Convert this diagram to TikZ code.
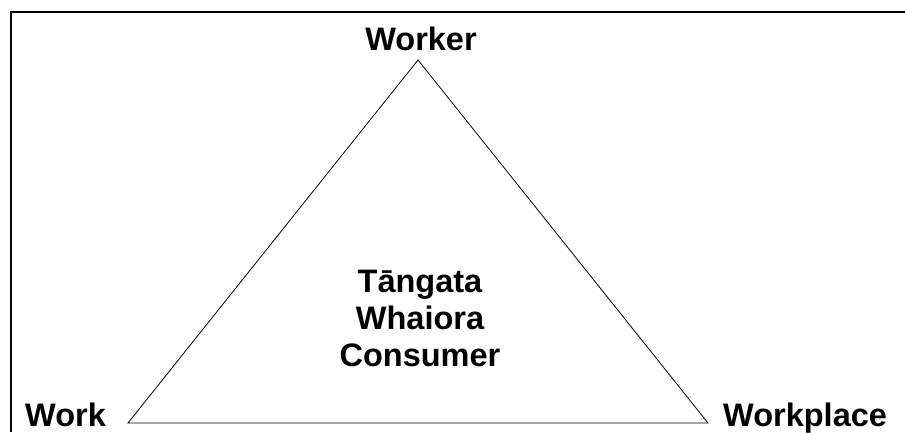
\documentclass[tikz,border=0pt]{standalone}
\usepackage{fontspec}
\setmainfont{Liberation Sans}

\begin{document}
\begin{tikzpicture}[x=1pt, y=-1pt,
    every node/.style={inner sep=0pt, font=\fontsize{32.5}{37}\selectfont\bfseries}]
      \useasboundingbox (0,0) rectangle (905,432);

      % frame, only top and left edges show
      \draw[line width=2.2pt] (11,432) -- (11,12) -- (905,12);

      \coordinate (top) at (418,60);
      \coordinate (bl) at (128,423);
      \coordinate (br) at (708,423);

      \node[anchor=base] (worker) at (421,50) {Worker};
      \node[anchor=base west] (work) at (25,426) {Work};
      \node[anchor=base west] (workplace) at (723,426) {Workplace};
      \node[align=center] (consumer) at (420,318) {Tāngata\\Whaiora\\Consumer};

      \draw[line width=0.8pt] (top) -- (bl) -- (br) -- cycle;
    \end{tikzpicture}
\end{document}
